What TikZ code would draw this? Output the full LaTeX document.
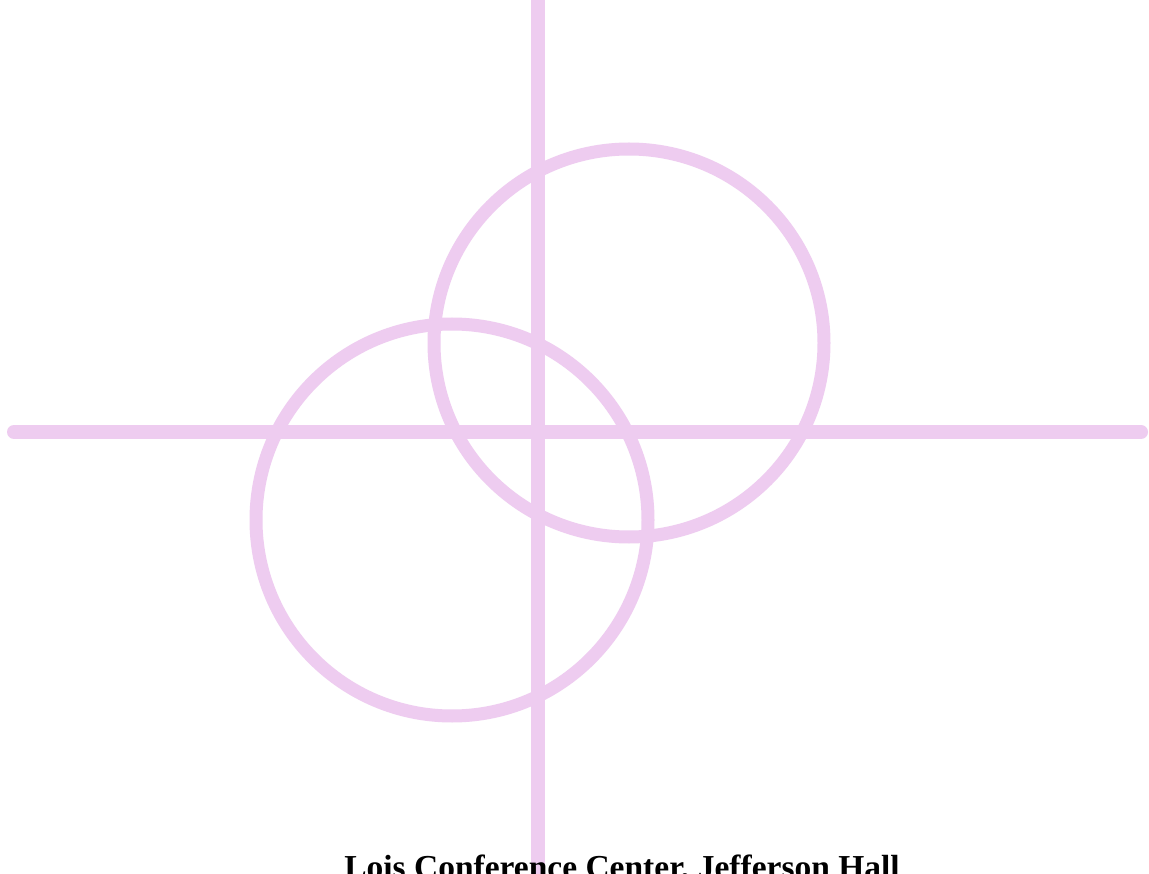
\documentclass[tikz,border=0pt]{standalone}
\usepackage{fontspec}
\setmainfont{Liberation Serif}
\definecolor{lilac}{RGB}{238,204,240}
\begin{document}
\begin{tikzpicture}[x=1pt,y=-1pt,
  pinkline/.style={draw=lilac,line width=14pt,line cap=round},
  pinkring/.style={draw=lilac,line width=13pt},
  caption/.style={font=\bfseries\fontsize{33.5}{40}\selectfont,inner sep=0pt,anchor=base}]
\useasboundingbox (0,0) rectangle (1149,874);
\clip (0,0) rectangle (1149,874);
\fill[white] (0,0) rectangle (1149,874);
\coordinate (hl) at (14,432);
\coordinate (hr) at (1141,432);
\coordinate (vt) at (538,-10);
\coordinate (vb) at (538,884);
\draw[pinkline] (hl) -- (hr);
\draw[pinkline] (vt) -- (vb);
\draw[pinkring] (629,343) ellipse (195 and 194);
\draw[pinkring] (452,520) ellipse (196 and 196);
\node[caption] (venue) at (622,878) {Lois Conference Center, Jefferson Hall};
\end{tikzpicture}
\end{document}
